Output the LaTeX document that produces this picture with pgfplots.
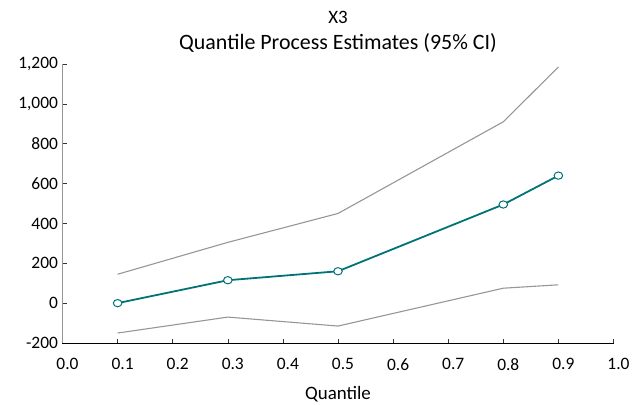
\documentclass[border=0pt]{standalone}
\usepackage{fontspec}
\setmainfont{Carlito}
\usepackage{pgfplots}
\pgfplotsset{compat=1.18}
\definecolor{stteal}{RGB}{0,115,118}
\definecolor{stgray}{RGB}{150,150,150}
\begin{document}
\begin{tikzpicture}
\begin{axis}[
  at={(0bp,0bp)}, anchor=south west,
  scale only axis, width=551bp, height=279bp,
  xmin=0, xmax=1, ymin=-200, ymax=1200,
  axis x line*=bottom, axis y line*=left,
  x axis line style={black, line width=1pt, -},
  y axis line style={stgray, line width=1pt, -},
  xtick={0,0.1,0.2,0.3,0.4,0.5,0.6,0.7,0.8,0.9,1},
  ytick={-200,0,200,400,600,800,1000,1200},
  tick align=inside, major tick length=4.5bp,
  tick style={black!80, line width=0.6pt},
  font=\fontsize{17.5}{17.5}\selectfont,
  /pgf/number format/assume math mode=true,
  xticklabel style={/pgf/number format/.cd, fixed, fixed zerofill, precision=1, /tikz/.cd, xshift=5bp, yshift=-12bp},
  yticklabel style={/pgf/number format/.cd, 1000 sep={,}, /tikz/.cd, xshift=-1bp},
  xlabel={Quantile}, xlabel style={font=\fontsize{19}{19}\selectfont, yshift=-9bp},
  clip=false,
]
\addplot[stgray, line width=1.1pt] coordinates {(0.1,145) (0.3,305) (0.5,450) (0.8,910) (0.9,1185)};
\addplot[stgray, line width=1.1pt] coordinates {(0.1,-150) (0.3,-70) (0.5,-115) (0.8,75) (0.9,92)};
\addplot[stteal, line width=1.8pt, mark=*, mark size=4.3pt, mark options={fill=white, draw=stteal, line width=1pt, yscale=0.85}] coordinates {(0.1,0) (0.3,115) (0.5,160) (0.8,495) (0.9,640)};
\node[font=\fontsize{19}{19}\selectfont] at ([yshift=47bp]rel axis cs:0.5,1) {X3};
\node[font=\fontsize{22}{22}\selectfont] at ([yshift=21bp]rel axis cs:0.5,1) {Quantile Process Estimates (95\% CI)};
\end{axis}
\pgfresetboundingbox
\path (-62.5bp,-62bp) rectangle (569.5bp,343bp);
\end{tikzpicture}
\end{document}
